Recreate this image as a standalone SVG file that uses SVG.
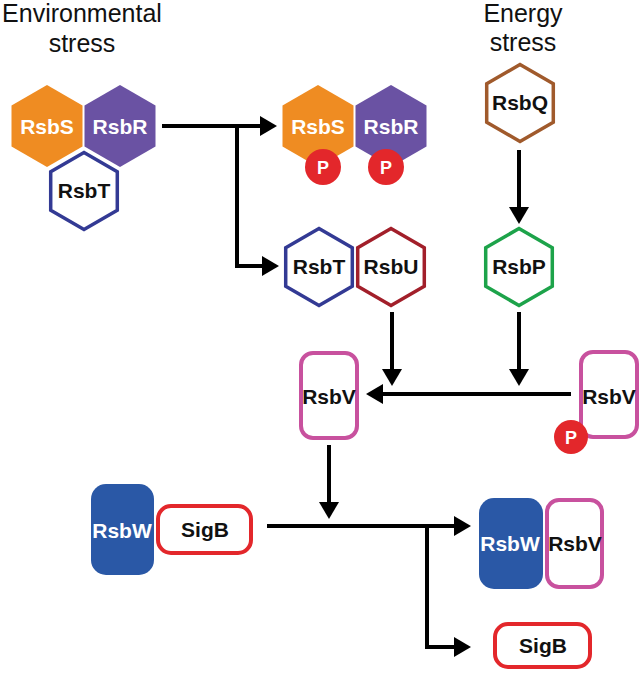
<svg xmlns="http://www.w3.org/2000/svg" width="640" height="674" viewBox="0 0 640 674">
<defs>
<style>
.title{font-family:"Liberation Sans",Arial,sans-serif;font-size:25px;fill:#111;text-anchor:middle}
.lbl{font-family:"Liberation Sans",Arial,sans-serif;font-size:21px;font-weight:bold;text-anchor:middle;fill:#111}
.w{fill:#fff}
.p{font-family:"Liberation Sans",Arial,sans-serif;font-size:18px;font-weight:bold;text-anchor:middle;fill:#fff}
.conn{fill:none;stroke:#000;stroke-width:4;stroke-linejoin:miter}
.pc{fill:#E3272B}
</style>
<marker id="ah" markerUnits="userSpaceOnUse" markerWidth="17" markerHeight="22" refX="8" refY="11" orient="auto">
<path d="M0,1 L17,11 L0,21 z" fill="#000"/>
</marker>
<path id="hexF" d="M0,-41 L35.5,-20.5 L35.5,20.5 L0,41 L-35.5,20.5 L-35.5,-20.5 Z"/>
<path id="hexO" d="M0,-38.5 L33.3,-19.25 L33.3,19.25 L0,38.5 L-33.3,19.25 L-33.3,-19.25 Z" fill="#fff" stroke-width="3.5"/>
</defs>
<rect width="640" height="674" fill="#fff"/>

<g id="title-env">
<text class="title" x="82" y="22">Environmental</text>
<text class="title" x="82" y="52">stress</text>
</g>
<g id="title-energy">
<text class="title" x="523" y="22">Energy</text>
<text class="title" x="523" y="51">stress</text>
</g>

<g id="connectors">
<path class="conn" d="M162,126 H268" marker-end="url(#ah)"/>
<path class="conn" d="M237,126 V266 H270" marker-end="url(#ah)"/>
<path class="conn" d="M519,150 V215" marker-end="url(#ah)"/>
<path class="conn" d="M392,312 V377" marker-end="url(#ah)"/>
<path class="conn" d="M519,312 V377" marker-end="url(#ah)"/>
<path class="conn" d="M571,394 H375" marker-end="url(#ah)"/>
<path class="conn" d="M329,445 V510" marker-end="url(#ah)"/>
<path class="conn" d="M267,526 H462" marker-end="url(#ah)"/>
<path class="conn" d="M427,526 V647 H462" marker-end="url(#ah)"/>
</g>

<g id="RsbS-1">
<use href="#hexF" x="47" y="126" fill="#EF8C22"/>
<text class="lbl w" x="47" y="134">RsbS</text>
</g>
<g id="RsbR-1">
<use href="#hexF" x="120" y="126" fill="#6A52A3"/>
<text class="lbl w" x="120" y="134">RsbR</text>
</g>
<g id="RsbT-1">
<use href="#hexO" x="84" y="191" stroke="#333A94"/>
<text class="lbl" x="84" y="198">RsbT</text>
</g>

<g id="RsbS-P">
<use href="#hexF" x="318" y="126" fill="#EF8C22"/>
<text class="lbl w" x="318" y="134">RsbS</text>
<circle class="pc" cx="323" cy="167" r="18"/>
<text class="p" x="323" y="173.5">P</text>
</g>
<g id="RsbR-P">
<use href="#hexF" x="391" y="126" fill="#6A52A3"/>
<text class="lbl w" x="391" y="134">RsbR</text>
<circle class="pc" cx="386" cy="167" r="18"/>
<text class="p" x="386" y="173.5">P</text>
</g>

<g id="RsbQ">
<use href="#hexO" x="520" y="103" stroke="#A05A2C"/>
<text class="lbl" x="520" y="110">RsbQ</text>
</g>

<g id="RsbT-2">
<use href="#hexO" x="319" y="267" stroke="#333A94"/>
<text class="lbl" x="319" y="274">RsbT</text>
</g>
<g id="RsbU">
<use href="#hexO" x="391" y="267" stroke="#A21F2A"/>
<text class="lbl" x="391" y="274">RsbU</text>
</g>
<g id="RsbP">
<use href="#hexO" x="519" y="267" stroke="#1DA34A"/>
<text class="lbl" x="519" y="274">RsbP</text>
</g>

<g id="RsbV-left">
<rect x="301" y="353" width="56" height="85" rx="12" fill="#fff" stroke="#C8519E" stroke-width="4"/>
<text class="lbl" x="329" y="404">RsbV</text>
</g>
<g id="RsbV-P">
<rect x="581" y="352" width="56" height="85" rx="12" fill="#fff" stroke="#C8519E" stroke-width="4"/>
<text class="lbl" x="609" y="404">RsbV</text>
<circle class="pc" cx="571" cy="437" r="17"/>
<text class="p" x="571" y="443.5">P</text>
</g>

<g id="RsbW-left">
<rect x="91" y="484" width="63" height="91" rx="15" fill="#2A58A6"/>
<text class="lbl w" x="122" y="538">RsbW</text>
</g>
<g id="SigB-left">
<rect x="158" y="506" width="93" height="47" rx="13" fill="#fff" stroke="#E3272B" stroke-width="4"/>
<text class="lbl" x="205" y="537">SigB</text>
</g>

<g id="RsbW-right">
<rect x="479" y="498" width="64" height="91" rx="15" fill="#2A58A6"/>
<text class="lbl w" x="510" y="551">RsbW</text>
</g>
<g id="RsbV-right">
<rect x="547" y="500" width="55" height="87" rx="12" fill="#fff" stroke="#C8519E" stroke-width="4"/>
<text class="lbl" x="575" y="551">RsbV</text>
</g>
<g id="SigB-right">
<rect x="495" y="624" width="95" height="43" rx="13" fill="#fff" stroke="#E3272B" stroke-width="4"/>
<text class="lbl" x="543" y="653">SigB</text>
</g>
</svg>
